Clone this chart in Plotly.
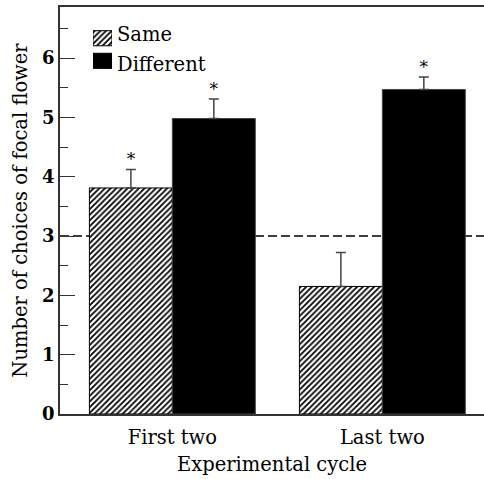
import plotly.graph_objects as go

categories = ["First two", "Last two"]
series_names = ["Same", "Different"]
same_vals = [3.81, 2.15]
same_err = [0.31, 0.57]
diff_vals = [4.98, 5.47]
diff_err = [0.33, 0.21]
same_sig = [True, False]
diff_sig = [True, True]
y_ticks = [0, 1, 2, 3, 4, 5, 6]
chance_level = 3

FONT = "DejaVu Serif"
FS = 19.5
bar_w = 0.395
pos = list(range(len(categories)))

hatch = dict(shape="/", fgcolor="black", bgcolor="white", size=4, solidity=0.45, fgopacity=1)

fig = go.Figure()
fig.add_trace(go.Bar(
    x=[p - bar_w / 2 for p in pos], y=same_vals, width=bar_w, name=series_names[0],
    marker=dict(color="white", line=dict(color="black", width=1), pattern=hatch),
    error_y=dict(type="data", symmetric=False, array=same_err, arrayminus=[0] * len(same_err),
                 color="#444", thickness=1.5, width=5),
    showlegend=False,
))
fig.add_trace(go.Bar(
    x=[p + bar_w / 2 for p in pos], y=diff_vals, width=bar_w, name=series_names[1],
    marker=dict(color="black", line=dict(color="#444", width=1)),
    error_y=dict(type="data", symmetric=False, array=diff_err, arrayminus=[0] * len(diff_err),
                 color="#444", thickness=1.5, width=5),
    showlegend=False,
))

# significance asterisks
sx, sy = [], []
for i, p in enumerate(pos):
    if same_sig[i]:
        sx.append(p - bar_w / 2); sy.append(same_vals[i] + same_err[i])
    if diff_sig[i]:
        sx.append(p + bar_w / 2); sy.append(diff_vals[i] + diff_err[i])
fig.add_trace(go.Scatter(x=sx, y=sy, mode="text", text=["*"] * len(sx), textposition="top center",
                         textfont=dict(family=FONT, size=17, color="black"), showlegend=False,
                         hoverinfo="skip"))

# legend keys drawn on a small inset axis
fig.add_trace(go.Bar(
    y=[1], x=[1], orientation="h", width=0.667, xaxis="x2", yaxis="y2",
    marker=dict(color="white", line=dict(color="black", width=1), pattern=hatch),
    showlegend=False, hoverinfo="skip"))
fig.add_trace(go.Bar(
    y=[0], x=[1], orientation="h", width=0.667, xaxis="x2", yaxis="y2",
    marker=dict(color="black", line=dict(color="black", width=1)),
    showlegend=False, hoverinfo="skip"))

fig.add_annotation(x=0.13, y=0.951 - 0.0185, xref="paper", yref="paper", text=series_names[0],
                   showarrow=False, xanchor="left", yanchor="middle",
                   font=dict(family=FONT, size=FS, color="black"))
fig.add_annotation(x=0.13, y=0.840 + 0.0185, xref="paper", yref="paper", text=series_names[1],
                   showarrow=False, xanchor="left", yanchor="middle",
                   font=dict(family=FONT, size=FS, color="black"))

fig.add_shape(type="line", xref="paper", x0=0, x1=1, yref="y", y0=chance_level, y1=chance_level,
              line=dict(color="black", width=1.3, dash="9px,4px"), layer="below")

fig.update_layout(
    width=484, height=479,
    margin=dict(l=60, r=0, t=7, b=65),
    paper_bgcolor="white", plot_bgcolor="white",
    showlegend=False,
    font=dict(family=FONT, color="black"),
    xaxis=dict(
        range=[-0.535, 1.484], tickvals=pos, ticktext=categories, ticks="",
        showline=True, linecolor="#333", linewidth=1.5, mirror=True, showgrid=False, zeroline=False,
        tickfont=dict(family=FONT, size=FS, color="black"), ticklabelstandoff=5,
        title=dict(text="Experimental cycle", font=dict(family=FONT, size=FS, color="black"), standoff=9),
    ),
    yaxis=dict(
        range=[0, 6.86], tickvals=y_ticks, ticks="inside", ticklen=15, tickwidth=1.2, tickcolor="#333",
        minor=dict(dtick=0.5, ticks="inside", ticklen=8, tickwidth=1.2, tickcolor="#333"),
        showline=True, linecolor="#333", linewidth=1.5, showgrid=False, zeroline=False,
        tickfont=dict(family=FONT, size=18, color="black", weight="bold"),
        title=dict(text="Number of choices of focal flower", font=dict(family=FONT, size=FS, color="black"),
                   standoff=9),
    ),
    xaxis2=dict(domain=[0.0778, 0.1226], range=[0, 1], anchor="y2", visible=False, fixedrange=True),
    yaxis2=dict(domain=[0.840, 0.951], range=[-0.5, 1.5], anchor="x2", visible=False, fixedrange=True),
)

fig.write_html("out.html")
